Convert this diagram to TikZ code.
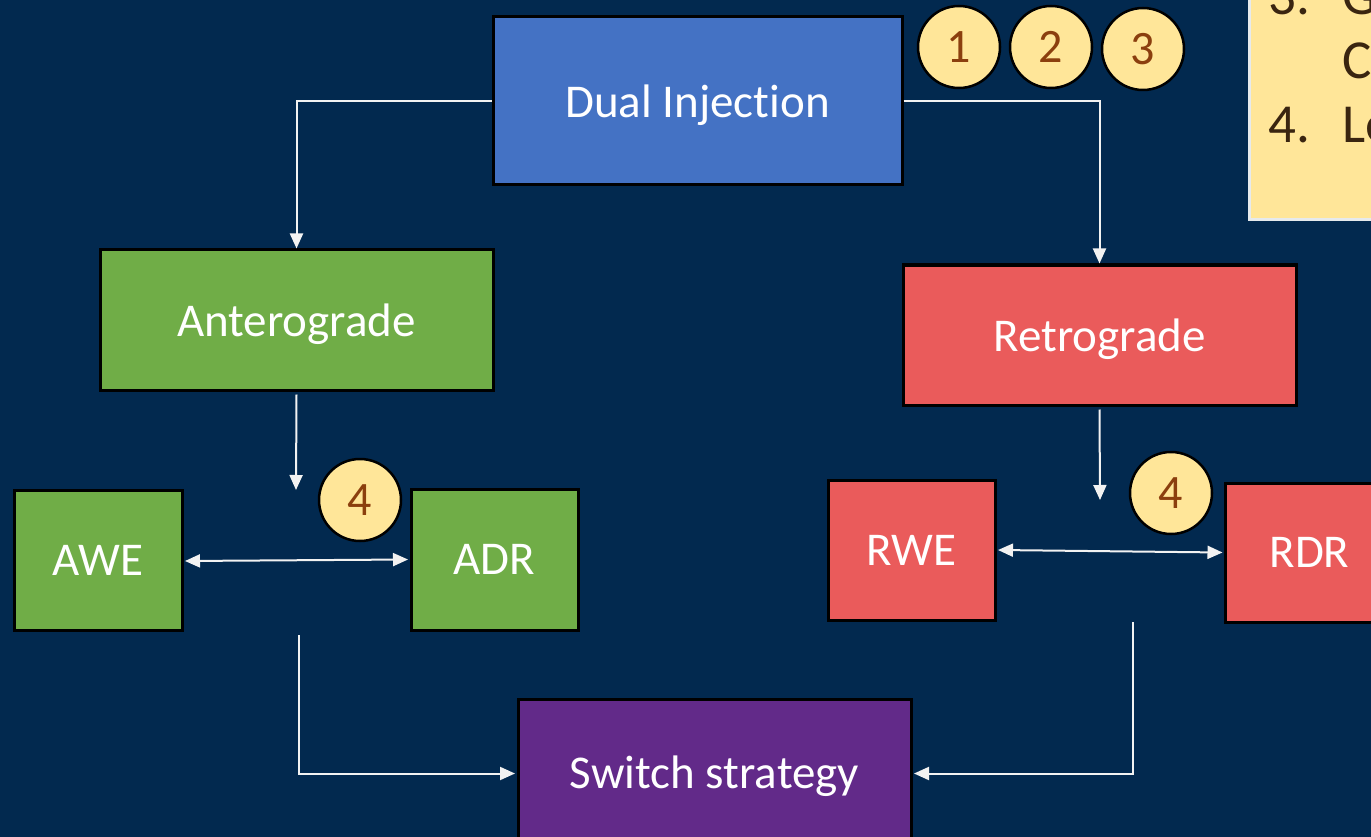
\documentclass[tikz,border=0pt]{standalone}
\usepackage{fontspec}
\setmainfont[RawFeature=-liga]{Carlito}
\usetikzlibrary{arrows.meta}
\definecolor{bgnavy}{HTML}{02294F}
\definecolor{dualblue}{HTML}{4472C4}
\definecolor{antgreen}{HTML}{70AD47}
\definecolor{retred}{HTML}{EA5B5B}
\definecolor{switchpurple}{HTML}{622A89}
\definecolor{notey}{HTML}{FFE699}
\definecolor{notetext}{HTML}{3A2510}
\definecolor{numbrown}{HTML}{8B3F0E}
\tikzset{
  box/.style={draw=black, line width=3pt, text=white, font=\fontsize{47}{52}\selectfont, inner sep=0pt, text depth=0pt},
  badge/.style={circle, draw=black, line width=2.5pt, fill=notey, text=numbrown, minimum size=82pt, inner sep=0pt, font=\fontsize{48}{52}\selectfont},
  conn/.style={draw=white!95!black, line width=2pt, -{Triangle[width=13pt,length=15pt]}},
  biconn/.style={draw=white!95!black, line width=2pt, {Triangle[width=13pt,length=15pt]}-{Triangle[width=13pt,length=15pt]}},
  notetxt/.style={text=notetext, font=\fontsize{55}{60}\selectfont, inner sep=0pt, anchor=base west}
}
\begin{document}
\begin{tikzpicture}[x=1pt,y=-1pt]
\useasboundingbox (0,0) rectangle (1371,837);
\fill[bgnavy] (0,0) rectangle (1371,837);
\begin{scope}
\clip (0,0) rectangle (1371,837);
% note box
\node[draw=white!90!bgnavy, line width=3pt, fill=notey, minimum width=200pt, minimum height=260pt, anchor=south west, inner sep=0pt] (note) at (1248,221) {};
\node[notetxt] (n3) at (1268,15) {3.};
\node[notetxt] (n3g) at (1342,15) {G};
\node[notetxt] (n3c) at (1342,79) {C};
\node[notetxt] (n4) at (1268,143) {4.};
\node[notetxt] (n4l) at (1342,143) {Le};
% boxes
\node[box, fill=dualblue, minimum width=409pt, minimum height=168pt] (dual) at (697.5,101) {Dual Injection};
\node[box, fill=antgreen, minimum width=393pt, minimum height=140pt] (ant) at (296.5,320) {Anterograde};
\node[box, fill=retred, minimum width=393pt, minimum height=140pt] (ret) at (1099.5,335) {Retrograde};
\node[box, fill=antgreen, minimum width=168pt, minimum height=140pt] (awe) at (98,560) {AWE};
\node[box, fill=antgreen, minimum width=167pt, minimum height=141pt] (adr) at (494.5,559.5) {ADR};
\node[box, fill=retred, minimum width=167pt, minimum height=140pt] (rwe) at (911.5,550) {RWE};
\node[box, fill=retred, minimum width=168pt, minimum height=139pt, anchor=west] (rdr) at (1224,552.5) {RDR};
\node[box, fill=switchpurple, minimum width=393pt, minimum height=148pt, anchor=north] (sw) at (714.5,698) {\raisebox{2pt}{Switch strategy}};
\end{scope}
% badges
\node[badge] (b1) at (959,47) {1};
\node[badge] (b2) at (1051,47) {2};
\node[badge] (b3) at (1143,49) {3};
\node[badge] (b4a) at (360,500) {4};
\node[badge] (b4b) at (1171,493) {4};
% free-end coordinates
\coordinate (antend) at (296,490);
\coordinate (retend) at (1100,500);
\coordinate (awetop) at (299,635);
\coordinate (rdrtop) at (1133,622);
% connectors
\draw[conn] (dual.west) -| (ant.north);
\draw[conn] (dual.east) -| (ret.north);
\draw[conn] (ant.south) ++(0,3) -- (antend);
\draw[conn] (ret.south) ++(0,3) -- (retend);
\draw[biconn] (awe.east) ++(1.5,1) -- ([xshift=-1.5pt]adr.west);
\draw[biconn] ([xshift=1.5pt]rwe.east) -- ([xshift=-1.5pt]rdr.west);
\draw[conn] (awetop) |- ([xshift=-1.5pt]sw.west);
\draw[conn] (rdrtop) |- ([xshift=1.5pt]sw.east);
\end{tikzpicture}
\end{document}
